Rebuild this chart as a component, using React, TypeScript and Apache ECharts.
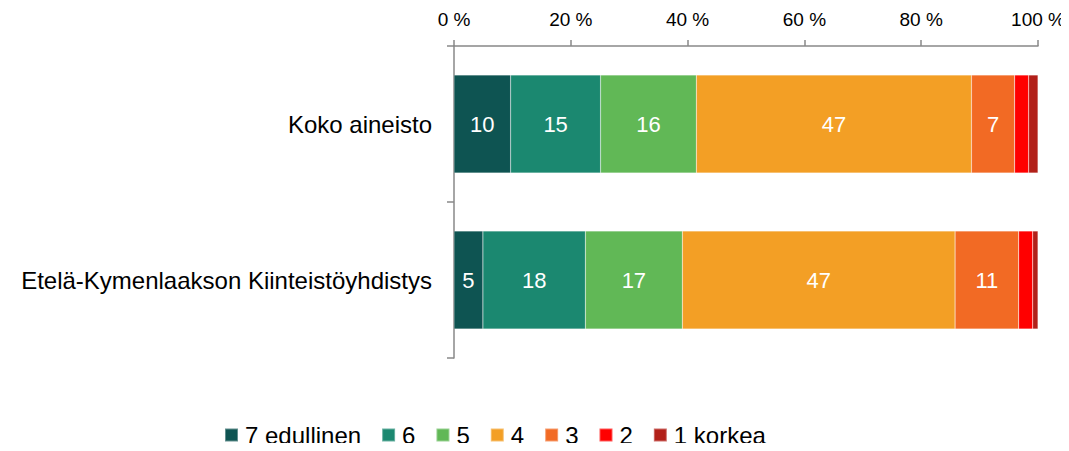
import React, { useEffect, useRef } from "react";
import * as echarts from "echarts";

const categories = ["Koko aineisto", "Etelä-Kymenlaakson Kiinteistöyhdistys"];
const seriesNames = ["7 edullinen", "6", "5", "4", "3", "2", "1 korkea"];
const colors = ["#0E5452", "#1B8870", "#61B856", "#F39F25", "#F26A24", "#FF0000", "#B22019"];
// values per series: [Koko aineisto, Etelä-Kymenlaakson Kiinteistöyhdistys]
const v7 = [9.7, 4.95];
const v6 = [15.4, 17.55];
const v5 = [16.4, 16.6];
const v4 = [47.1, 46.7];
const v3 = [7.4, 10.9];
const v2 = [2.4, 2.4];
const v1 = [1.6, 0.9];
const seriesValues = [v7, v6, v5, v4, v3, v2, v1];
const xTicks = [0, 20, 40, 60, 80, 100];

export default function App() {
  const ref = useRef<HTMLDivElement>(null);
  useEffect(() => {
    if (!ref.current) return;
    const chart = echarts.init(ref.current, null, { renderer: "svg" });
    const font = "'Liberation Sans', Arial, sans-serif";
    chart.setOption({
      animation: false,
      textStyle: { fontFamily: font },
      grid: { left: 454, right: 31, top: 46, bottom: 93 },
      xAxis: {
        type: "value",
        position: "top",
        min: xTicks[0],
        max: xTicks[xTicks.length - 1],
        interval: 20,
        axisLine: { show: true, lineStyle: { color: "#888", width: 1.5 } },
        axisTick: { show: true, length: 6, lineStyle: { color: "#888", width: 1.5 } },
        splitLine: { show: false },
        axisLabel: { formatter: "{value} %", fontSize: 19, color: "#000", margin: 17, fontFamily: font },
      },
      yAxis: {
        type: "category",
        inverse: true,
        data: categories,
        axisLine: { show: true, lineStyle: { color: "#888", width: 1.5 } },
        axisTick: { show: true, length: 7, lineStyle: { color: "#888", width: 1.5 } },
        axisLabel: { fontSize: 24, color: "#000", margin: 22, fontFamily: font },
      },
      legend: {
        left: 224,
        top: 423,
        itemWidth: 13,
        itemHeight: 13,
        itemGap: 20,
        icon: "rect",
        padding: 0,
        textStyle: { fontSize: 24, color: "#000", fontFamily: font, padding: [0, 0, 0, 2] },
        data: seriesNames,
      },
      series: seriesNames.map((name, i) => ({
        name,
        type: "bar",
        stack: "total",
        barWidth: 98,
        itemStyle: { color: colors[i], borderColor: "rgba(255,255,255,0.35)", borderWidth: 0.5 },
        label: {
          show: i < 5,
          position: "inside",
          color: "#fff",
          fontSize: 22,
          fontFamily: font,
          formatter: (p: any) => String(Math.round(p.value)),
        },
        data: seriesValues[i],
      })),
    });
    return () => chart.dispose();
  }, []);
  return (
    <div
      ref={ref}
      style={{ width: 1069, height: 451, marginTop: -8, marginLeft: -8, marginRight: -8, marginBottom: -8 }}
    />
  );
}
